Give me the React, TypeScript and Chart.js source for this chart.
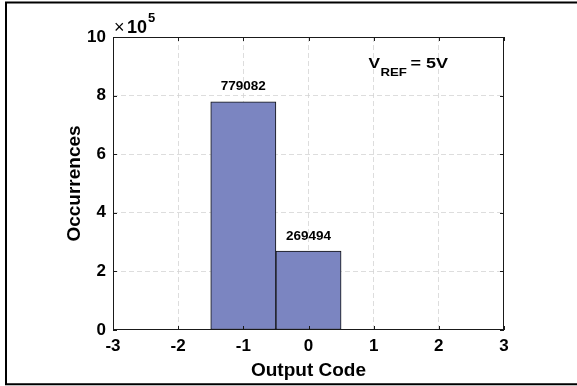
import React, { useEffect, useRef } from "react";
import { Chart, registerables } from "chart.js";

Chart.register(...registerables);

const codes = [-1, 0];
const occurrences = [779082, 269494];
const xTicks = [-3, -2, -1, 0, 1, 2, 3];
const yTicks = [0, 200000, 400000, 600000, 800000, 1000000];
const xTitle = "Output Code";
const yTitle = "Occurrences";
const exponentText = ["×", "10", "5"];
const vrefText = ["V", "REF", "= 5V"];
const VREF_X = 0.92;
const VREF_Y = 894000;

const FONT = "'Liberation Sans', Arial, sans-serif";

const framePlugin = {
  id: "frameAndText",
  afterDraw(chart: any) {
    const ctx = chart.ctx;
    const { left, right, top, bottom } = chart.chartArea;
    const xs = chart.scales.x;
    const ys = chart.scales.y;
    ctx.save();
    // axes box
    ctx.strokeStyle = "#1a1a1a";
    ctx.lineWidth = 1;
    ctx.strokeRect(left + 0.5, top + 0.5, right - left - 1, bottom - top - 1);
    // inner ticks
    const tl = 4;
    ctx.beginPath();
    xTicks.forEach((v) => {
      const px = Math.round(xs.getPixelForValue(v)) + 0.5;
      ctx.moveTo(px, bottom);
      ctx.lineTo(px, bottom - tl);
      ctx.moveTo(px, top);
      ctx.lineTo(px, top + tl);
    });
    yTicks.forEach((v) => {
      const py = Math.round(ys.getPixelForValue(v)) + 0.5;
      ctx.moveTo(left, py);
      ctx.lineTo(left + tl, py);
      ctx.moveTo(right, py);
      ctx.lineTo(right - tl, py);
    });
    ctx.stroke();

    // bar value labels
    ctx.fillStyle = "#000";
    ctx.font = `bold 13.5px ${FONT}`;
    ctx.textAlign = "center";
    ctx.textBaseline = "middle";
    const meta = chart.getDatasetMeta(0);
    meta.data.forEach((el: any, i: number) => {
      ctx.fillText(String(occurrences[i]), el.x, el.y - 15);
    });

    // exponent label
    ctx.textAlign = "left";
    ctx.textBaseline = "alphabetic";
    ctx.font = `18px ${FONT}`;
    ctx.fillText(exponentText[0], left + 1, top - 4);
    ctx.font = `bold 18px ${FONT}`;
    ctx.fillText(exponentText[1], left + 14, top - 4);
    ctx.font = `bold 13px ${FONT}`;
    ctx.fillText(exponentText[2], left + 35, top - 15);

    // V_REF annotation
    const ax = xs.getPixelForValue(VREF_X);
    const ay = ys.getPixelForValue(VREF_Y);
    const drawStretched = (t: string, x: number, y: number, font: string, sx: number) => {
      ctx.save();
      ctx.font = font;
      ctx.translate(x, y);
      ctx.scale(sx, 1);
      ctx.fillText(t, 0, 0);
      ctx.restore();
    };
    drawStretched(vrefText[0], ax, ay, `bold 15px ${FONT}`, 1.15);
    drawStretched(vrefText[1], ax + 12, ay + 8, `bold 11.5px ${FONT}`, 1.15);
    drawStretched(vrefText[2], ax + 42, ay, `bold 15px ${FONT}`, 1.2);

    // outer border (left, top, bottom only; right edge lies outside the image)
    ctx.strokeStyle = "#000";
    ctx.lineWidth = 2;
    ctx.beginPath();
    ctx.moveTo(chart.width, 2.5);
    ctx.lineTo(6, 2.5);
    ctx.lineTo(6, 384.3);
    ctx.lineTo(chart.width, 384.3);
    ctx.stroke();
    ctx.restore();
  },
};

export default function App() {
  const ref = useRef<HTMLCanvasElement | null>(null);
  useEffect(() => {
    if (!ref.current) return;
    const chart = new Chart(ref.current, {
      type: "bar",
      data: {
        datasets: [
          {
            data: codes.map((c, i) => ({ x: c, y: occurrences[i] })),
            backgroundColor: "rgb(123,133,193)",
            borderColor: "#111",
            borderWidth: 1,
            borderSkipped: false,
            barPercentage: 1,
            categoryPercentage: 1,
          },
        ],
      },
      options: {
        responsive: false,
        animation: false,
        devicePixelRatio: 1,
        layout: { padding: { left: 0, top: 37, right: 73, bottom: 0 } },
        plugins: { legend: { display: false }, tooltip: { enabled: false } },
        scales: {
          x: {
            type: "linear",
            min: -3,
            max: 3,
            offset: false,
            z: 1,
            afterFit: (s: any) => {
              s.height = 56;
            },
            afterBuildTicks: (s: any) => {
              s.ticks = xTicks.map((v) => ({ value: v }));
            },
            ticks: {
              padding: 6,
              color: "#000",
              font: { family: FONT, size: 17, weight: "bold" },
              maxRotation: 0,
            },
            grid: {
              offset: false,
              drawTicks: false,
              color: (c: any) =>
                c.tick && (c.tick.value === -3 || c.tick.value === 3)
                  ? "rgba(0,0,0,0)"
                  : "rgba(210,210,210,0.75)",
            },
            border: { display: false, dash: [5, 3] },
            title: {
              display: true,
              text: xTitle,
              color: "#000",
              font: { family: FONT, size: 19, weight: "bold" },
              padding: { top: 0, bottom: 4 },
            },
          },
          y: {
            min: 0,
            max: 1000000,
            z: 1,
            afterFit: (s: any) => {
              s.width = 113;
            },
            afterBuildTicks: (s: any) => {
              s.ticks = yTicks.map((v) => ({ value: v }));
            },
            ticks: {
              padding: 7,
              color: "#000",
              font: { family: FONT, size: 17, weight: "bold" },
              callback: (v: any) => String(Number(v) / 100000),
            },
            grid: {
              drawTicks: false,
              color: (c: any) =>
                c.tick && (c.tick.value === 0 || c.tick.value === 1000000)
                  ? "rgba(0,0,0,0)"
                  : "rgba(210,210,210,0.75)",
            },
            border: { display: false, dash: [5, 3] },
            title: {
              display: true,
              text: yTitle,
              color: "#000",
              font: { family: FONT, size: 19, weight: "bold" },
              padding: { top: 63, bottom: 0 },
            },
          },
        },
      },
      plugins: [framePlugin],
    } as any);
    return () => chart.destroy();
  }, []);
  return (
    <div style={{ position: "absolute", left: 0, top: 0, width: 577, height: 386, background: "#fff" }}>
      <canvas ref={ref} width={577} height={386} style={{ display: "block" }} />
    </div>
  );
}
